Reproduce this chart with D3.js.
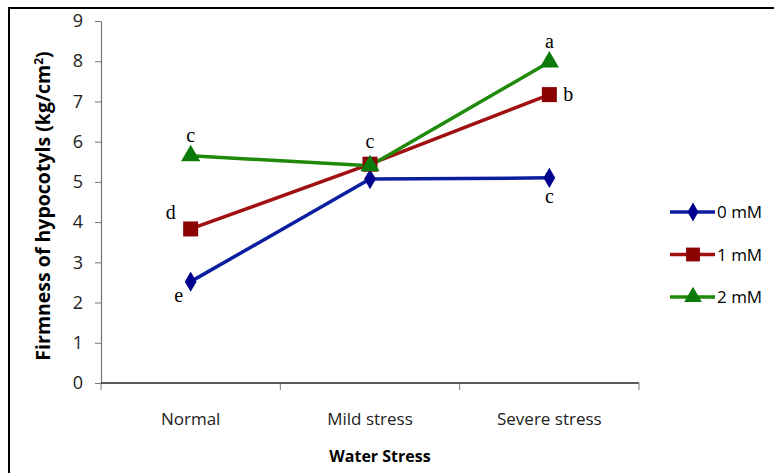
<!DOCTYPE html>
<html>
<head>
<meta charset="utf-8">
<script src="https://cdn.jsdelivr.net/npm/d3@7"></script>
<style>
  body { margin: 0; background: #fff; overflow: hidden; }
  svg { display: block; }
</style>
</head>
<body>
<svg id="chart"></svg>
<script>
const categories = ["Normal", "Mild stress", "Severe stress"];
const seriesNames = ["0 mM", "1 mM", "2 mM"];
const values0 = [2.52, 5.07, 5.1];
const values1 = [3.83, 5.44, 7.17];
const values2 = [5.65, 5.4, 7.98];
const letters0 = ["e", "", "c"];
const letters1 = ["d", "c", "b"];
const letters2 = ["c", "", "a"];
const yTicks = [0, 1, 2, 3, 4, 5, 6, 7, 8, 9];

const width = 774;
const height = 473;
const margin = { top: 21, right: 135, bottom: 90, left: 101 };

const series = [
  { name: seriesNames[0], values: values0, letters: letters0, color: "#00008f", line: "#0a1ea0", shape: d3.symbolDiamond, size: 120 },
  { name: seriesNames[1], values: values1, letters: letters1, color: "#8b0000", line: "#a01010", shape: d3.symbolSquare, size: 225 },
  { name: seriesNames[2], values: values2, letters: letters2, color: "#0a7a0a", line: "#1f8a0a", shape: d3.symbolTriangle, size: 160 }
];

const svg = d3.select("#chart")
  .attr("width", width)
  .attr("height", height);

// outer frame, only its left and top edges fall inside the picture
svg.append("path")
  .attr("d", `M9,${height} V8 H${width}`)
  .attr("fill", "none")
  .attr("stroke", "#000")
  .attr("stroke-width", 2);

const innerWidth = 639 - margin.left;
const innerHeight = 383 - margin.top;
const g = svg.append("g")
  .attr("transform", `translate(${margin.left},${margin.top})`);

const x = d3.scaleBand()
  .domain(categories)
  .range([0, innerWidth]);

const y = d3.scaleLinear()
  .domain([0, 9])
  .range([innerHeight, 0]);

// y axis
const yAxisG = g.append("g")
  .call(d3.axisLeft(y).tickValues(yTicks).tickSize(6).tickPadding(12).tickSizeOuter(0))
  .attr("font-size", 18)
  .attr("font-family", "'Open Sans', sans-serif");
yAxisG.select(".domain").attr("stroke", "#777").attr("stroke-width", 1.2);
yAxisG.selectAll(".tick line").attr("stroke", "#777");
yAxisG.selectAll("text").attr("fill", "#222");

// x axis
const xAxisG = g.append("g")
  .attr("transform", `translate(0,${innerHeight})`)
  .call(d3.axisBottom(x).tickSize(0).tickPadding(30))
  .attr("font-size", 17)
  .attr("font-family", "'Open Sans', sans-serif");
xAxisG.select(".domain").remove();
xAxisG.append("line")
  .attr("x1", 0).attr("x2", innerWidth)
  .attr("stroke", "#222").attr("stroke-width", 1.5);
const bounds = [0, ...categories.map(c => x(c) + x.bandwidth())];
xAxisG.selectAll(".sep")
  .data(bounds)
  .enter()
  .append("line")
  .attr("x1", d => d).attr("x2", d => d)
  .attr("y1", 0).attr("y2", 7)
  .attr("stroke", "#777");
xAxisG.selectAll(".tick text").attr("fill", "#222");

// axis titles
svg.append("text")
  .attr("x", 380)
  .attr("y", 462)
  .attr("text-anchor", "middle")
  .attr("font-size", 16)
  .attr("font-weight", "bold")
  .attr("font-family", "'Open Sans', sans-serif")
  .text("Water Stress");

const yTitle = svg.append("text")
  .attr("transform", "translate(50, 206) rotate(-90)")
  .attr("text-anchor", "middle")
  .attr("font-size", 19.5)
  .attr("font-weight", "bold")
  .attr("font-family", "'Open Sans', sans-serif");
yTitle.append("tspan").text("Firmness of hypocotyls (kg/cm");
yTitle.append("tspan").attr("dy", -7).attr("font-size", 12).text("2");
yTitle.append("tspan").attr("dy", 7).text(")");

const cx = c => x(c) + x.bandwidth() / 2;

const line = d3.line()
  .x((d, i) => cx(categories[i]))
  .y(d => y(d));

series.forEach(s => {
  g.append("path")
    .datum(s.values)
    .attr("fill", "none")
    .attr("stroke", s.line)
    .attr("stroke-width", 3.5)
    .attr("d", line);
});

series.forEach(s => {
  g.selectAll(null)
    .data(s.values)
    .enter()
    .append("path")
    .attr("d", d3.symbol().type(s.shape).size(s.size))
    .attr("transform", (d, i) => `translate(${cx(categories[i])},${y(d)})`)
    .attr("fill", s.color);
});

// significance letters
const letterOffsets = {
  "0 mM": [[-12, 20], [0, 0], [0, 25]],
  "1 mM": [[-20, -10], [0, -16], [19, 6]],
  "2 mM": [[0, -14], [0, 0], [0, -14]]
};
series.forEach(s => {
  s.letters.forEach((l, i) => {
    if (!l) return;
    const off = letterOffsets[s.name][i];
    g.append("text")
      .attr("x", cx(categories[i]) + off[0])
      .attr("y", y(s.values[i]) + off[1])
      .attr("text-anchor", "middle")
      .attr("font-size", 20)
      .attr("font-family", "'Liberation Serif', serif")
      .attr("fill", "#000")
      .text(l);
  });
});

// legend
const legend = svg.append("g")
  .attr("transform", "translate(670, 212)");
series.forEach((s, i) => {
  const row = legend.append("g").attr("transform", `translate(0, ${i * 42.5})`);
  row.append("line")
    .attr("x1", 0).attr("x2", 45)
    .attr("stroke", s.line).attr("stroke-width", 3.5);
  row.append("path")
    .attr("d", d3.symbol().type(s.shape).size(s.size * 0.85))
    .attr("transform", "translate(23,0)")
    .attr("fill", s.color);
  row.append("text")
    .attr("x", 47)
    .attr("y", 6)
    .attr("font-size", 17)
    .attr("font-family", "'Open Sans', sans-serif")
    .attr("fill", "#000")
    .text(s.name);
});
</script>
</body>
</html>
